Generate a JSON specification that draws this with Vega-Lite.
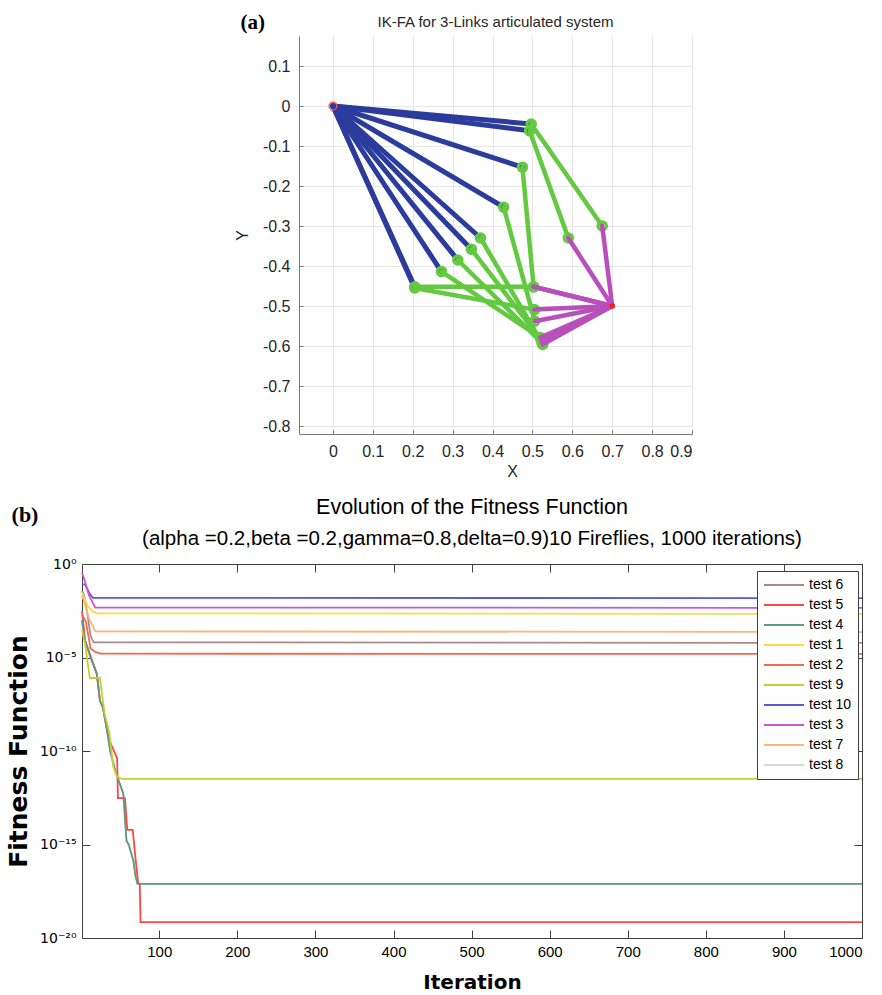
{
  "$schema": "https://vega.github.io/schema/vega-lite/v6.json",
  "padding": {"left": 6, "top": 12, "right": 5, "bottom": 5},
  "background": "white",
  "bounds": "flush",
  "spacing": 528,
  "config": {"view": {"stroke": null}, "font": "Liberation Sans"},
  "vconcat": [
    {
      "bounds": "flush",
      "spacing": 0,
      "hconcat": [
        {
          "width": 218, "height": 398,
          "data": {"values": []},
          "mark": "point",
          "title": {"text": "(a)", "font": "Liberation Serif", "fontSize": 21, "fontWeight": "bold", "anchor": "end", "dx": -34, "baseline": "alphabetic", "offset": -14, "color": "black"}
        },
        {
          "width": 393, "height": 398,
          "title": {"text": "IK-FA for 3-Links articulated system", "fontSize": 15, "fontWeight": "normal", "color": "#262626", "baseline": "alphabetic", "offset": -6, "anchor": "middle", "frame": "group"},
          "data": {"values": [
            {"cfg": 1, "x0": 0, "y0": 0, "x1": 0.497, "y1": -0.045, "x2": 0.675, "y2": -0.300, "xe": 0.7, "ye": -0.5},
            {"cfg": 2, "x0": 0, "y0": 0, "x1": 0.493, "y1": -0.062, "x2": 0.590, "y2": -0.330, "xe": 0.7, "ye": -0.5},
            {"cfg": 3, "x0": 0, "y0": 0, "x1": 0.475, "y1": -0.153, "x2": 0.503, "y2": -0.452, "xe": 0.7, "ye": -0.5},
            {"cfg": 4, "x0": 0, "y0": 0, "x1": 0.428, "y1": -0.253, "x2": 0.506, "y2": -0.538, "xe": 0.7, "ye": -0.5},
            {"cfg": 5, "x0": 0, "y0": 0, "x1": 0.370, "y1": -0.330, "x2": 0.526, "y2": -0.596, "xe": 0.7, "ye": -0.5},
            {"cfg": 6, "x0": 0, "y0": 0, "x1": 0.347, "y1": -0.358, "x2": 0.522, "y2": -0.585, "xe": 0.7, "ye": -0.5},
            {"cfg": 7, "x0": 0, "y0": 0, "x1": 0.313, "y1": -0.385, "x2": 0.524, "y2": -0.592, "xe": 0.7, "ye": -0.5},
            {"cfg": 8, "x0": 0, "y0": 0, "x1": 0.272, "y1": -0.414, "x2": 0.520, "y2": -0.579, "xe": 0.7, "ye": -0.5},
            {"cfg": 9, "x0": 0, "y0": 0, "x1": 0.205, "y1": -0.452, "x2": 0.503, "y2": -0.452, "xe": 0.7, "ye": -0.5},
            {"cfg": 10, "x0": 0, "y0": 0, "x1": 0.205, "y1": -0.455, "x2": 0.505, "y2": -0.509, "xe": 0.7, "ye": -0.5}
          ]},
          "layer": [
            {
              "mark": {"type": "rule", "color": "#2b3c9c", "strokeWidth": 5, "strokeCap": "round"},
              "encoding": {
                "x": {"field": "x0", "type": "quantitative", "title": "X",
                  "scale": {"domain": [-0.085, 0.9], "nice": false, "zero": false},
                  "axis": {"values": [0, 0.1, 0.2, 0.3, 0.4, 0.5, 0.6, 0.7, 0.8, 0.9], "labelExpr": "replace(format(datum.value, '.1~f'), '−', '-')",
                    "grid": true, "gridColor": "#e6e6e6", "tickSize": -4, "labelPadding": 13, "labelFontSize": 16, "labelColor": "#262626",
                    "domainColor": "#7a7a7a", "tickColor": "#7a7a7a", "titleFontSize": 16, "titleFontWeight": "normal", "titleColor": "#262626",
                    "titlePadding": 4, "titleX": 213}},
                "y": {"field": "y0", "type": "quantitative", "title": "Y",
                  "scale": {"domain": [-0.82, 0.175], "nice": false, "zero": false},
                  "axis": {"values": [-0.8, -0.7, -0.6, -0.5, -0.4, -0.3, -0.2, -0.1, 0, 0.1], "labelExpr": "replace(format(datum.value, '.1~f'), '−', '-')",
                    "grid": true, "gridColor": "#e6e6e6", "tickSize": -4, "labelPadding": 13, "labelFontSize": 16, "labelColor": "#262626",
                    "domainColor": "#7a7a7a", "tickColor": "#7a7a7a", "titleFontSize": 16, "titleFontWeight": "normal", "titleColor": "#262626",
                    "titlePadding": 12}},
                "x2": {"field": "x1"},
                "y2": {"field": "y1"}
              }
            },
            {
              "mark": {"type": "rule", "color": "#62c940", "strokeWidth": 4.5, "strokeCap": "round"},
              "encoding": {
                "x": {"field": "x1", "type": "quantitative", "title": "X"},
                "y": {"field": "y1", "type": "quantitative", "title": "Y"},
                "x2": {"field": "x2"},
                "y2": {"field": "y2"}
              }
            },
            {
              "mark": {"type": "point", "shape": "circle", "filled": false, "stroke": "#62c940", "strokeWidth": 3.2, "size": 70, "opacity": 1},
              "encoding": {
                "x": {"field": "x1", "type": "quantitative", "title": "X"},
                "y": {"field": "y1", "type": "quantitative", "title": "Y"}
              }
            },
            {
              "mark": {"type": "point", "shape": "circle", "filled": false, "stroke": "#62c940", "strokeWidth": 3.2, "size": 70, "opacity": 1},
              "encoding": {
                "x": {"field": "x2", "type": "quantitative", "title": "X"},
                "y": {"field": "y2", "type": "quantitative", "title": "Y"}
              }
            },
            {
              "mark": {"type": "rule", "color": "#b84fbb", "strokeWidth": 4.5, "strokeCap": "round"},
              "encoding": {
                "x": {"field": "x2", "type": "quantitative", "title": "X"},
                "y": {"field": "y2", "type": "quantitative", "title": "Y"},
                "x2": {"field": "xe"},
                "y2": {"field": "ye"}
              }
            },
            {
              "data": {"values": [{"px": 0, "py": 0}]},
              "mark": {"type": "point", "shape": "circle", "filled": false, "stroke": "#ff5050", "strokeWidth": 1.3, "size": 60, "opacity": 1},
              "encoding": {
                "x": {"field": "px", "type": "quantitative", "title": "X"},
                "y": {"field": "py", "type": "quantitative", "title": "Y"}
              }
            },
            {
              "data": {"values": [{"px": 0.7, "py": -0.5}]},
              "mark": {"type": "point", "shape": "circle", "filled": true, "color": "#ff1a1a", "size": 30, "opacity": 1},
              "encoding": {
                "x": {"field": "px", "type": "quantitative", "title": "X"},
                "y": {"field": "py", "type": "quantitative", "title": "Y"}
              }
            }
          ]
        }
      ]
    },
    {
      "bounds": "flush",
      "spacing": 0,
      "hconcat": [
        {
          "width": 1, "height": 374,
          "data": {"values": []},
          "mark": "point",
          "title": {"text": "(b)", "font": "Liberation Serif", "fontSize": 22, "fontWeight": "bold", "anchor": "middle", "dx": -56.5, "baseline": "alphabetic", "offset": 20, "color": "black"}
        },
        {
          "width": 780, "height": 374,
          "title": {"text": "Evolution of the Fitness Function", "subtitle": "(alpha =0.2,beta =0.2,gamma=0.8,delta=0.9)10 Fireflies, 1000 iterations)",
            "fontSize": 21.5, "subtitleFontSize": 20.5, "subtitleFont": "Liberation Sans", "subtitleColor": "black", "subtitlePadding": 8, "subtitleFontWeight": "normal",
            "fontWeight": "normal", "color": "black", "baseline": "bottom", "offset": -14, "anchor": "middle", "frame": "group"},
          "data": {"values": [
            {"test": "test 8", "iter": 1, "f": 1e-3}, {"test": "test 8", "iter": 3, "f": 2e-4}, {"test": "test 8", "iter": 5, "f": 8e-5}, {"test": "test 8", "iter": 12, "f": 1.2e-5}, {"test": "test 8", "iter": 20, "f": 1.3e-6}, {"test": "test 8", "iter": 24, "f": 5e-8}, {"test": "test 8", "iter": 28, "f": 2e-8}, {"test": "test 8", "iter": 33, "f": 1.3e-9}, {"test": "test 8", "iter": 37, "f": 1e-10}, {"test": "test 8", "iter": 44, "f": 8e-12}, {"test": "test 8", "iter": 54, "f": 5e-13}, {"test": "test 8", "iter": 58, "f": 1.6e-15}, {"test": "test 8", "iter": 67, "f": 1.3e-16}, {"test": "test 8", "iter": 72, "f": 7.8e-18}, {"test": "test 8", "iter": 1000, "f": 7.8e-18},
            {"test": "test 6", "iter": 1, "f": 0.036}, {"test": "test 6", "iter": 4, "f": 0.02}, {"test": "test 6", "iter": 8, "f": 0.002}, {"test": "test 6", "iter": 12, "f": 1.4e-4}, {"test": "test 6", "iter": 16, "f": 6.5e-5}, {"test": "test 6", "iter": 1000, "f": 6e-5},
            {"test": "test 5", "iter": 1, "f": 3e-3}, {"test": "test 5", "iter": 3, "f": 5e-4}, {"test": "test 5", "iter": 5, "f": 8e-5}, {"test": "test 5", "iter": 12, "f": 1e-5}, {"test": "test 5", "iter": 20, "f": 1.3e-6}, {"test": "test 5", "iter": 24, "f": 5e-8}, {"test": "test 5", "iter": 28, "f": 2e-8}, {"test": "test 5", "iter": 33, "f": 1.3e-9}, {"test": "test 5", "iter": 37, "f": 3e-10}, {"test": "test 5", "iter": 46, "f": 4e-11}, {"test": "test 5", "iter": 47, "f": 3e-13}, {"test": "test 5", "iter": 56, "f": 3e-13}, {"test": "test 5", "iter": 59, "f": 6e-15}, {"test": "test 5", "iter": 66, "f": 6e-15}, {"test": "test 5", "iter": 69, "f": 3e-16}, {"test": "test 5", "iter": 73, "f": 8e-18}, {"test": "test 5", "iter": 75, "f": 8e-18}, {"test": "test 5", "iter": 76, "f": 7e-20}, {"test": "test 5", "iter": 1000, "f": 7e-20},
            {"test": "test 4", "iter": 1, "f": 1e-3}, {"test": "test 4", "iter": 3, "f": 2e-4}, {"test": "test 4", "iter": 5, "f": 8e-5}, {"test": "test 4", "iter": 12, "f": 1.2e-5}, {"test": "test 4", "iter": 20, "f": 1.3e-6}, {"test": "test 4", "iter": 24, "f": 5e-8}, {"test": "test 4", "iter": 28, "f": 2e-8}, {"test": "test 4", "iter": 33, "f": 1.3e-9}, {"test": "test 4", "iter": 37, "f": 1e-10}, {"test": "test 4", "iter": 44, "f": 8e-12}, {"test": "test 4", "iter": 50, "f": 1.5e-12}, {"test": "test 4", "iter": 54, "f": 5e-13}, {"test": "test 4", "iter": 56, "f": 2.5e-14}, {"test": "test 4", "iter": 58, "f": 1.6e-15}, {"test": "test 4", "iter": 61, "f": 1e-15}, {"test": "test 4", "iter": 67, "f": 1.3e-16}, {"test": "test 4", "iter": 69, "f": 2.5e-17}, {"test": "test 4", "iter": 72, "f": 7.8e-18}, {"test": "test 4", "iter": 1000, "f": 7.8e-18},
            {"test": "test 1", "iter": 1, "f": 0.03}, {"test": "test 1", "iter": 4, "f": 0.015}, {"test": "test 1", "iter": 8, "f": 0.006}, {"test": "test 1", "iter": 14, "f": 0.003}, {"test": "test 1", "iter": 20, "f": 0.0023}, {"test": "test 1", "iter": 1000, "f": 0.00214},
            {"test": "test 2", "iter": 1, "f": 0.002}, {"test": "test 2", "iter": 6, "f": 8e-4}, {"test": "test 2", "iter": 12, "f": 3e-5}, {"test": "test 2", "iter": 18, "f": 2e-5}, {"test": "test 2", "iter": 25, "f": 1.6e-5}, {"test": "test 2", "iter": 1000, "f": 1.55e-5},
            {"test": "test 9", "iter": 1, "f": 3e-4}, {"test": "test 9", "iter": 5, "f": 5e-5}, {"test": "test 9", "iter": 11, "f": 8e-7}, {"test": "test 9", "iter": 24, "f": 8e-7}, {"test": "test 9", "iter": 30, "f": 1e-8}, {"test": "test 9", "iter": 36, "f": 1e-9}, {"test": "test 9", "iter": 41, "f": 1.5e-11}, {"test": "test 9", "iter": 46, "f": 4e-12}, {"test": "test 9", "iter": 52, "f": 3.2e-12}, {"test": "test 9", "iter": 1000, "f": 3.2e-12},
            {"test": "test 10", "iter": 1, "f": 0.085}, {"test": "test 10", "iter": 5, "f": 0.08}, {"test": "test 10", "iter": 10, "f": 0.03}, {"test": "test 10", "iter": 15, "f": 0.0155}, {"test": "test 10", "iter": 1000, "f": 0.015},
            {"test": "test 3", "iter": 1, "f": 0.34}, {"test": "test 3", "iter": 4, "f": 0.15}, {"test": "test 3", "iter": 10, "f": 0.02}, {"test": "test 3", "iter": 18, "f": 0.0047}, {"test": "test 3", "iter": 1000, "f": 0.0045},
            {"test": "test 7", "iter": 1, "f": 0.02}, {"test": "test 7", "iter": 3, "f": 0.012}, {"test": "test 7", "iter": 10, "f": 0.0012}, {"test": "test 7", "iter": 18, "f": 0.00025}, {"test": "test 7", "iter": 1000, "f": 0.00023}
          ]},
          "resolve": {"axis": {"x": "independent", "y": "independent"}},
          "layer": [
            {
              "mark": {"type": "line", "strokeWidth": 1.8},
              "encoding": {
                "x": {"field": "iter", "type": "quantitative", "title": "Iteration",
                  "scale": {"domain": [1, 1000], "nice": false, "zero": false},
                  "axis": {"orient": "bottom", "values": [100, 200, 300, 400, 500, 600, 700, 800, 900, 1000], "format": "d", "grid": false,
                    "tickSize": -8, "labelPadding": 14, "labelFontSize": 15, "labelColor": "black", "domainColor": "#404040", "tickColor": "#404040",
                    "titleFont": "DejaVu Sans", "titleFontSize": 20, "titleFontWeight": "bold", "titleColor": "black", "titlePadding": 13}},
                "y": {"field": "f", "type": "quantitative", "title": "Fitness Function",
                  "scale": {"type": "log", "domain": [1e-20, 1], "nice": false},
                  "axis": {"orient": "left", "values": [1, 1e-5, 1e-10, 1e-15, 1e-20],
                    "labelExpr": "datum.value > 0.5 ? '10⁰' : datum.value > 1e-6 ? '10⁻⁵' : datum.value > 1e-11 ? '10⁻¹⁰' : datum.value > 1e-16 ? '10⁻¹⁵' : '10⁻²⁰'",
                    "grid": false, "tickSize": -8, "labelPadding": 14, "labelFont": "DejaVu Sans", "labelFontSize": 14, "labelColor": "black", "domainColor": "#404040", "tickColor": "#404040",
                    "titleFont": "DejaVu Sans", "titleFontSize": 25, "titleFontWeight": "bold", "titleColor": "black", "titlePadding": 8}},
                "color": {"field": "test", "type": "nominal",
                  "scale": {"domain": ["test 6", "test 5", "test 4", "test 1", "test 2", "test 9", "test 10", "test 3", "test 7", "test 8"],
                    "range": ["#a88a8a", "#ff4545", "#5e9a86", "#f0e040", "#f26a50", "#c5cf35", "#5a5ad6", "#cc58d6", "#ffb57a", "#d8d8d8"]},
                  "legend": {"orient": "none", "legendX": 676, "legendY": 535, "title": null, "strokeColor": "#404040", "fillColor": "white", "padding": 6,
                    "symbolType": "stroke", "symbolSize": 1600, "symbolStrokeWidth": 2, "clipHeight": 16, "rowPadding": 4,
                    "labelFontSize": 14, "labelOffset": 4, "labelColor": "black", "cornerRadius": 0}}
              }
            },
            {
              "mark": {"type": "point", "opacity": 0},
              "encoding": {
                "x": {"field": "iter", "type": "quantitative",
                  "axis": {"orient": "top", "values": [100, 200, 300, 400, 500, 600, 700, 800, 900, 1000], "labels": false, "title": null, "grid": false,
                    "tickSize": -8, "domainColor": "#404040", "tickColor": "#404040"}},
                "y": {"field": "f", "type": "quantitative",
                  "axis": {"orient": "right", "values": [1, 1e-5, 1e-10, 1e-15, 1e-20], "labels": false, "title": null, "grid": false,
                    "tickSize": -8, "domainColor": "#404040", "tickColor": "#404040"}}
              }
            }
          ]
        }
      ]
    }
  ]
}
